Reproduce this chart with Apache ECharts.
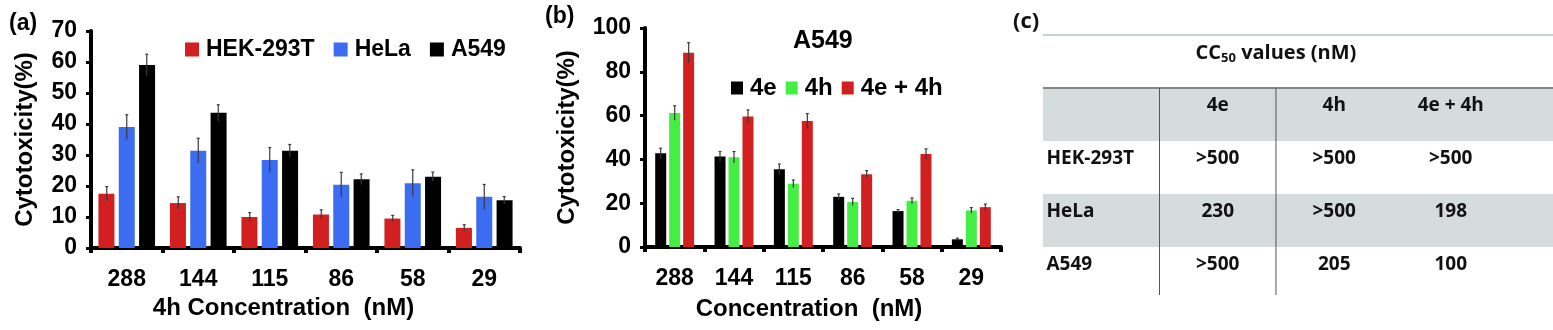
<!DOCTYPE html>
<html>
<head>
<meta charset="utf-8">
<script src="https://cdn.jsdelivr.net/npm/echarts@6/dist/echarts.min.js"></script>
<style>
  html, body { margin: 0; padding: 0; background: #fff; }
  #chart { width: 1553px; height: 330px; }
</style>
</head>
<body>
<div id="chart"></div>
<script>
// panel (a): 4h alone on three cell lines
const concentrations = ['288', '144', '115', '86', '58', '29'];
const cellLines = ['HEK-293T', 'HeLa', 'A549'];
const hekValues = [17.5, 14.5, 10, 10.8, 9.5, 6.5];
const hekErrors = [2.3, 2, 1.4, 1.5, 1, 1];
const helaValues = [39, 31.4, 28.4, 20.4, 20.9, 16.5];
const helaErrors = [4, 4, 4, 4, 4.3, 4];
const a549Values = [59, 43.6, 31.4, 22.2, 23, 15.4];
const a549Errors = [3.5, 2.6, 2, 1.7, 1.5, 1.2];

// panel (b): A549 with 4e / 4h / combination
const treatments = ['4e', '4h', '4e + 4h'];
const t4eValues = [42.8, 41.3, 35.5, 22.9, 16.4, 3.5];
const t4eErrors = [2.3, 2.3, 2.4, 1.3, 0.7, 0.5];
const t4hValues = [61.2, 41, 28.9, 20.6, 21.1, 16.7];
const t4hErrors = [3.3, 2.6, 1.7, 1.6, 1.3, 1.3];
const comboValues = [88.7, 59.6, 57.5, 33.2, 42.5, 18.2];
const comboErrors = [4.6, 3, 3.4, 1.7, 2.3, 1.4];

// panel (c): CC50 table
const tableRows = ['HEK-293T', 'HeLa', 'A549'];
const cc50Values = [
  ['>500', '>500', '>500'],
  ['230', '>500', '198'],
  ['>500', '205', '100']
];

const RED = '#d21f1f', BLUE = '#3b6cf2', BLACK = '#000', GREEN = '#44ee44';
const font = '"Liberation Sans", Arial, sans-serif';
const boldText = { color: '#000', fontWeight: 'bold', fontSize: 23, fontFamily: font };
const tableFont = 'bold 19px "Open Sans", "Noto Sans", sans-serif';

const chart = echarts.init(document.getElementById('chart'), null, { renderer: 'canvas' });

function xAxisFor(grid, name, gap, pad) {
  return {
    type: 'category', gridIndex: grid, data: concentrations,
    axisLine: { lineStyle: { color: '#000', width: 4 } },
    axisTick: { show: true, length: 5, lineStyle: { color: '#000', width: 4 } },
    axisLabel: { ...boldText, margin: 20 },
    name: name, nameLocation: 'middle', nameGap: gap,
    nameTextStyle: { ...boldText, fontSize: 24, padding: [0, pad, 0, 0] }
  };
}

function yAxisFor(grid, max, interval, gap) {
  return {
    type: 'value', gridIndex: grid, min: 0, max: max, interval: interval,
    axisLine: { show: true, lineStyle: { color: '#000', width: 4 } },
    axisTick: { show: true, length: 5, lineStyle: { color: '#000', width: 3 } },
    axisLabel: { ...boldText, margin: 14 },
    splitLine: { show: false },
    name: 'Cytotoxicity(%)', nameLocation: 'middle', nameGap: gap,
    nameTextStyle: { ...boldText, fontSize: 24 }
  };
}

function barSeries(name, values, color, grid, width) {
  return {
    type: 'bar', name: name, data: values, xAxisIndex: grid, yAxisIndex: grid,
    barWidth: width, barGap: '27%', itemStyle: { color: color }
  };
}

function errorSeries(name, values, errors, grid, offset) {
  return {
    type: 'custom', name: name + ' err', xAxisIndex: grid, yAxisIndex: grid, z: 5,
    silent: true,
    data: values.map((v, i) => [i, v, errors[i]]),
    renderItem: (params, api) => {
      const i = api.value(0), v = api.value(1), e = api.value(2);
      const hi = api.coord([i, v + e]);
      const lo = api.coord([i, v - e]);
      const x = hi[0] + offset;
      const st = { stroke: '#3a3a3a', lineWidth: 1.2 };
      return {
        type: 'group', children: [
          { type: 'line', shape: { x1: x, y1: hi[1], x2: x, y2: lo[1] }, style: st },
          { type: 'line', shape: { x1: x - 1.5, y1: hi[1], x2: x + 1.5, y2: hi[1] }, style: st }
        ]
      };
    }
  };
}

// table drawn on its own hidden value grid: x in column units, y in row units
const TABLE_X_MAX = 4.378, TABLE_Y_MAX = 4.906;
function tableText(api, x, y, text, align) {
  const p = api.coord([x, y]);
  return {
    type: 'text',
    style: {
      text: text, x: p[0], y: p[1], font: tableFont, fill: '#111',
      align: align, verticalAlign: 'middle', textAlign: align, textVerticalAlign: 'middle'
    }
  };
}

const tableCells = [];
treatments.forEach((t, c) => tableCells.push([c + 1.5, 1.34, t, 'center']));
tableRows.forEach((r, ri) => {
  tableCells.push([0.03, ri + 2.34, r, 'left']);
  cc50Values[ri].forEach((v, c) => tableCells.push([c + 1.5, ri + 2.34, v, 'center']));
});

const option = {
  animation: false,
  backgroundColor: '#fff',
  title: [
    { text: '(a)', left: 4, top: 7, textStyle: { ...boldText } },
    { text: '(b)', left: 540, top: 0, textStyle: { ...boldText } },
    { text: 'A549', left: 788, top: 24, textStyle: { ...boldText, fontSize: 25 } },
    { text: '(c)', left: 1008, top: 6, textStyle: { color: '#111', fontWeight: 'bold', fontSize: 22, fontFamily: '"Open Sans", sans-serif' } }
  ],
  legend: [
    {
      data: cellLines, left: 180, top: 33, itemWidth: 14, itemHeight: 14, itemGap: 19,
      icon: 'rect', textStyle: { ...boldText, padding: [0, 0, 0, 2] }
    },
    {
      data: treatments, left: 726, top: 71, itemWidth: 12, itemHeight: 13, itemGap: 9,
      icon: 'rect', textStyle: { ...boldText, fontSize: 24, padding: [0, 0, 0, 2] }
    }
  ],
  grid: [
    { left: 91, top: 31, width: 429, height: 217 },
    { left: 645, top: 28, width: 356, height: 219 },
    { left: 1043, top: 35, width: 510, height: 260 }
  ],
  xAxis: [
    xAxisFor(0, '4h Concentration  (nM)', 44, 44),
    xAxisFor(1, 'Concentration  (nM)', 50, 28),
    { type: 'value', gridIndex: 2, min: 0, max: TABLE_X_MAX, show: false }
  ],
  yAxis: [
    yAxisFor(0, 70, 10, 54),
    yAxisFor(1, 100, 20, 66),
    { type: 'value', gridIndex: 2, min: 0, max: TABLE_Y_MAX, inverse: true, show: false }
  ],
  series: [
    barSeries('HEK-293T', hekValues, RED, 0, 16),
    barSeries('HeLa', helaValues, BLUE, 0, 16),
    barSeries('A549', a549Values, BLACK, 0, 16),
    errorSeries('HEK-293T', hekValues, hekErrors, 0, -20),
    errorSeries('HeLa', helaValues, helaErrors, 0, 0),
    errorSeries('A549', a549Values, a549Errors, 0, 20),

    barSeries('4e', t4eValues, BLACK, 1, 11),
    barSeries('4h', t4hValues, GREEN, 1, 11),
    barSeries('4e + 4h', comboValues, RED, 1, 11),
    errorSeries('4e', t4eValues, t4eErrors, 1, -14),
    errorSeries('4h', t4hValues, t4hErrors, 1, 0),
    errorSeries('4e + 4h', comboValues, comboErrors, 1, 14),

    // shaded rows: header and HeLa
    {
      type: 'custom', xAxisIndex: 2, yAxisIndex: 2, silent: true, z: 1,
      data: [[1], [3]],
      renderItem: (params, api) => {
        const r = api.value(0);
        const a = api.coord([0, r]), b = api.coord([TABLE_X_MAX, r + 1]);
        return { type: 'rect', shape: { x: a[0], y: a[1], width: b[0] - a[0], height: b[1] - a[1] }, style: { fill: '#d6dcdb' } };
      }
    },
    // rules: top line, header line, two column separators
    {
      type: 'custom', xAxisIndex: 2, yAxisIndex: 2, silent: true, z: 2,
      data: [[0, 0, TABLE_X_MAX, 0, 0], [0, 1, TABLE_X_MAX, 1, 1], [1, 1, 1, TABLE_Y_MAX, 2], [2, 1, 2, TABLE_Y_MAX, 2]],
      renderItem: (params, api) => {
        const a = api.coord([api.value(0), api.value(1)]);
        const b = api.coord([api.value(2), api.value(3)]);
        const kind = api.value(4);
        const style = kind === 0 ? { stroke: '#c9d2d0', lineWidth: 2 }
          : kind === 1 ? { stroke: '#7d8a88', lineWidth: 2 }
          : { stroke: '#4d5856', lineWidth: 1 };
        return { type: 'line', shape: { x1: a[0], y1: a[1], x2: b[0], y2: b[1] }, style: style };
      }
    },
    // cell texts
    {
      type: 'custom', xAxisIndex: 2, yAxisIndex: 2, silent: true, z: 3,
      data: tableCells,
      renderItem: (params, api) => {
        const d = tableCells[params.dataIndex];
        return tableText(api, d[0], d[1], d[2], d[3]);
      }
    },
    // table title with subscript
    {
      type: 'custom', xAxisIndex: 2, yAxisIndex: 2, silent: true, z: 3,
      data: [[2, 0.34]],
      renderItem: (params, api) => {
        const p = api.coord([api.value(0), api.value(1)]);
        return {
          type: 'text',
          style: {
            text: 'CC{sub|50} values (nM)', x: p[0], y: p[1], font: 'bold 20px "Open Sans", sans-serif', fill: '#111',
            align: 'center', verticalAlign: 'middle', textAlign: 'center', textVerticalAlign: 'middle',
            rich: { sub: { font: 'bold 13px "Open Sans", sans-serif', fill: '#111', padding: [10, 0, 0, 0] } }
          }
        };
      }
    }
  ]
};

chart.setOption(option);
</script>
</body>
</html>
